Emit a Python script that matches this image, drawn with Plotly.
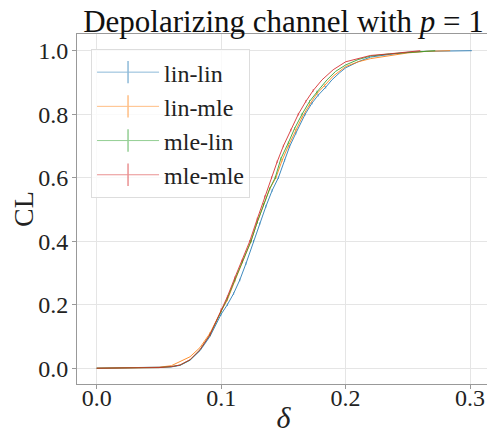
import plotly.graph_objects as go

# ---- data ----
delta_linlin = [0.0, 0.05, 0.06, 0.067, 0.075, 0.083, 0.091, 0.1, 0.105, 0.110, 0.115, 0.120,
                0.126, 0.131, 0.136, 0.141, 0.146, 0.151, 0.155, 0.160, 0.1675, 0.173, 0.178,
                0.184, 0.189, 0.195, 0.2, 0.21, 0.22, 0.235, 0.25, 0.265, 0.28, 0.3014]
cl_linlin = [0.0, 0.002, 0.004, 0.009, 0.025, 0.055, 0.10, 0.17, 0.20, 0.235, 0.278, 0.33,
             0.40, 0.455, 0.51, 0.56, 0.60, 0.655, 0.698, 0.74, 0.80, 0.835, 0.86,
             0.885, 0.908, 0.93, 0.946, 0.965, 0.98, 0.988, 0.995, 0.998, 0.999, 1.0]

delta_linmle = [0.0, 0.05, 0.06, 0.067, 0.075, 0.083, 0.091, 0.1, 0.105, 0.111, 0.117, 0.124,
                0.129, 0.134, 0.139, 0.1440, 0.149, 0.154, 0.160, 0.165, 0.171, 0.177,
                0.183, 0.19, 0.2, 0.21, 0.22, 0.235, 0.25, 0.265, 0.284]
cl_linmle = [0.0, 0.003, 0.008, 0.02, 0.036, 0.065, 0.11, 0.18, 0.215, 0.275, 0.335, 0.40,
             0.46, 0.515, 0.565, 0.60, 0.655, 0.70, 0.75, 0.79, 0.83, 0.865,
             0.89, 0.92, 0.95, 0.965, 0.975, 0.985, 0.993, 0.998, 1.0]

delta_mlelin = [0.0, 0.05, 0.06, 0.067, 0.075, 0.083, 0.091, 0.1, 0.105, 0.111, 0.117, 0.124,
                0.129, 0.134, 0.139, 0.1434, 0.148, 0.154, 0.159, 0.165, 0.171, 0.177,
                0.185, 0.192, 0.2, 0.21, 0.22, 0.235, 0.25, 0.26, 0.272]
cl_mlelin = [0.0, 0.002, 0.005, 0.01, 0.026, 0.058, 0.105, 0.18, 0.22, 0.278, 0.335, 0.40,
             0.46, 0.515, 0.565, 0.60, 0.66, 0.71, 0.755, 0.80, 0.84, 0.87,
             0.908, 0.935, 0.955, 0.972, 0.983, 0.99, 0.995, 0.998, 1.0]

delta_mlemle = [0.0, 0.05, 0.06, 0.067, 0.075, 0.083, 0.091, 0.1, 0.105, 0.111, 0.117, 0.123,
                0.129, 0.135, 0.1405, 0.145, 0.150, 0.156, 0.162, 0.168, 0.174, 0.181,
                0.19, 0.2, 0.21, 0.22, 0.235, 0.25, 0.26]
cl_mlemle = [0.0, 0.002, 0.005, 0.01, 0.027, 0.058, 0.105, 0.185, 0.225, 0.285, 0.34, 0.40,
             0.47, 0.54, 0.60, 0.65, 0.70, 0.75, 0.80, 0.84, 0.875, 0.908,
             0.94, 0.965, 0.975, 0.985, 0.99, 0.996, 1.0]

series_names = ["lin-lin", "lin-mle", "mle-lin", "mle-mle"]
series_colors = ["#1f77b4", "#ff7f0e", "#2ca02c", "#d62728"]
series_x = [delta_linlin, delta_linmle, delta_mlelin, delta_mlemle]
series_y = [cl_linlin, cl_linmle, cl_mlelin, cl_mlemle]

x_ticks = [0.0, 0.1, 0.2, 0.3]
x_ticklabels = ["0.0", "0.1", "0.2", "0.3"]
y_ticks = [0.0, 0.2, 0.4, 0.6, 0.8, 1.0]
y_ticklabels = ["0.0", "0.2", "0.4", "0.6", "0.8", "1.0"]


def small_err(ys):
    return [0.004 if 0.1 < v < 0.9 else 0.0 for v in ys]


SERIF = "Liberation Serif, DejaVu Serif, serif"

fig = go.Figure()
for name, color, xs, ys in zip(series_names, series_colors, series_x, series_y):
    fig.add_trace(go.Scatter(
        x=xs, y=ys, mode="lines", name=name, showlegend=False,
        line=dict(color=color, width=1),
        opacity=0.85,
        error_y=dict(type="data", array=small_err(ys), color=color, thickness=0.8, width=0),
    ))
# legend entries (line with vertical error-bar tick)
for name, color in zip(series_names, series_colors):
    fig.add_trace(go.Scatter(
        x=[None], y=[None], mode="lines+markers", name=name,
        line=dict(color=color, width=1),
        marker=dict(symbol="line-ns", size=16, color=color,
                    line=dict(color=color, width=1.5)),
        opacity=0.5,
    ))

# the page body adds an 8px offset, so the figure is 8px smaller than the window
fig.update_layout(
    width=487, height=426,
    margin=dict(l=69, r=5, t=26, b=50, autoexpand=False),
    paper_bgcolor="white", plot_bgcolor="white",
    font=dict(family=SERIF, size=24, color="#222"),
    title=dict(text="Depolarizing channel with <i>p</i> = 1", x=0.5, xref="paper",
               y=0.995, yref="container", yanchor="top", automargin=False,
               font=dict(family=SERIF, size=31, color="#111")),
    legend=dict(x=0.034, y=0.957, xanchor="left", yanchor="top",
                bgcolor="rgba(255,255,255,0.8)", bordercolor="#dddddd", borderwidth=1,
                font=dict(family=SERIF, size=24, color="#222"),
                itemwidth=62),
    showlegend=True,
)
fig.update_xaxes(range=[-0.0158, 0.316], tickvals=x_ticks, ticktext=x_ticklabels,
                 automargin=False, ticklabelstandoff=-12,
                 showgrid=True, gridcolor="#e5e5e5", gridwidth=1,
                 showline=True, linecolor="#999999", linewidth=1, mirror=True,
                 ticks="outside", ticklen=4, tickcolor="#999999",
                 zeroline=False,
                 title=dict(text="<i>δ</i>", font=dict(family=SERIF, size=30), standoff=25),
                 tickfont=dict(family=SERIF, size=24))
fig.update_yaxes(range=[-0.0497, 1.0526], tickvals=y_ticks, ticktext=y_ticklabels,
                 automargin=False, ticklabelstandoff=-1,
                 showgrid=True, gridcolor="#e5e5e5", gridwidth=1,
                 showline=True, linecolor="#999999", linewidth=1, mirror=True,
                 ticks="outside", ticklen=4, tickcolor="#999999",
                 zeroline=False,
                 title=dict(text="CL", font=dict(family=SERIF, size=28), standoff=2),
                 tickfont=dict(family=SERIF, size=24))

fig.write_html("out.html")
